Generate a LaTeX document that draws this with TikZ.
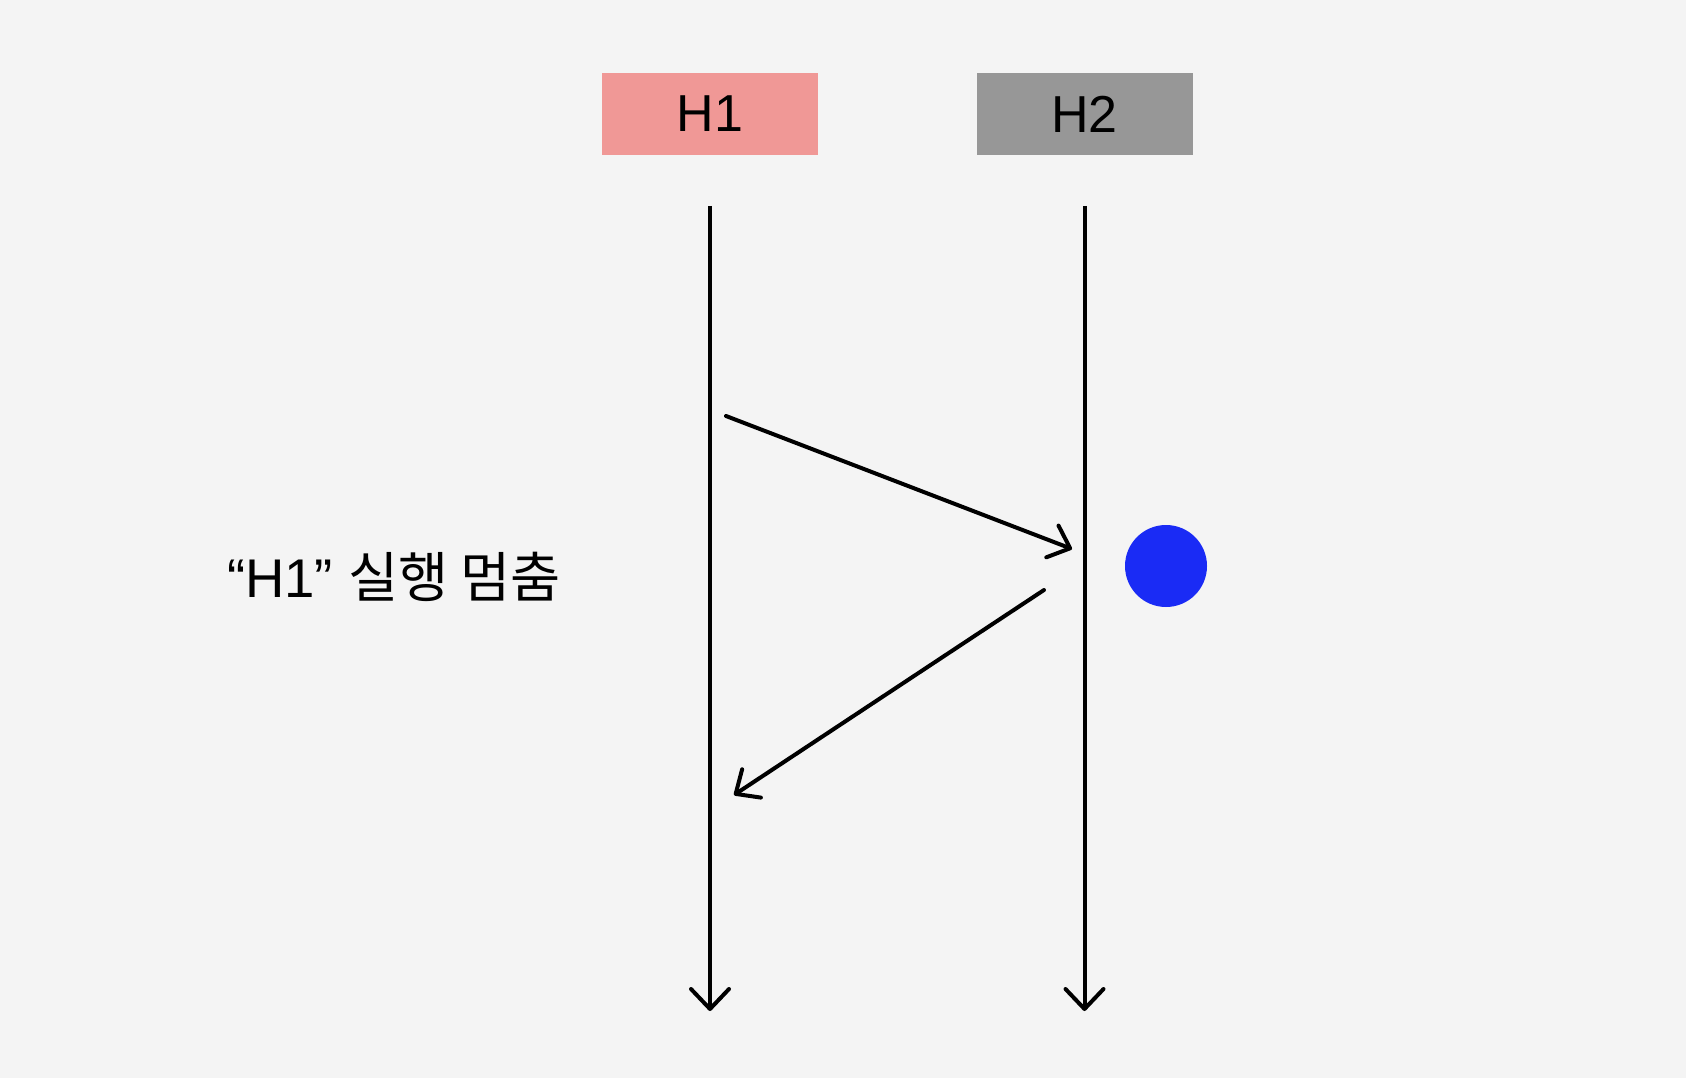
\documentclass[tikz,border=0pt]{standalone}
\usepackage{fontspec}
\setmainfont{Liberation Sans}
\newfontfamily\cjk{Noto Sans CJK KR}
\usetikzlibrary{arrows.meta}
\definecolor{bgc}{HTML}{F4F4F4}
\definecolor{hone}{HTML}{F09896}
\definecolor{htwo}{HTML}{979797}
\definecolor{dotblue}{HTML}{1A2BF5}
\tikzset{
  hostbox/.style={minimum width=216pt, minimum height=82pt, inner sep=0pt, font=\fontsize{52}{60}\selectfont},
  lifeline/.style={line width=4pt, -{Straight Barb[length=20pt,width=38pt,line cap=round,line join=round]}},
  msg/.style={line width=4pt, line cap=round, -{Straight Barb[length=19pt,width=34pt,line cap=round,line join=round]}},
}
\begin{document}
\begin{tikzpicture}[x=1pt,y=-1pt]
\fill[bgc] (0,0) rectangle (1686,1078);
\useasboundingbox (0,0) rectangle (1686,1078);
\node[hostbox, fill=hone] (h1) at (710,114) {\raisebox{-2pt}{H1}};
\node[hostbox, fill=htwo] (h2) at (1084.5,114) {\raisebox{-2pt}{H2}};
\coordinate (h1top) at (710,206);
\coordinate (h1bot) at (710,1011);
\coordinate (h2top) at (1084.5,206);
\coordinate (h2bot) at (1084.5,1011);
\draw[lifeline] (h1top) -- (h1bot);
\draw[lifeline] (h2top) -- (h2bot);
\coordinate (m1s) at (726,416);
\coordinate (m1e) at (1072,549);
\coordinate (m2s) at (1044,590);
\coordinate (m2e) at (734,795);
\draw[msg] (m1s) -- (m1e);
\draw[msg] (m2s) -- (m2e);
\node[circle, fill=dotblue, minimum size=82pt, inner sep=0pt] (dot) at (1166,566) {};
\node[font=\fontsize{54.5}{60}\selectfont, inner sep=0pt] (lbl) at (394,577) {“H1” {\cjk 실행 멈춤}};
\end{tikzpicture}
\end{document}
